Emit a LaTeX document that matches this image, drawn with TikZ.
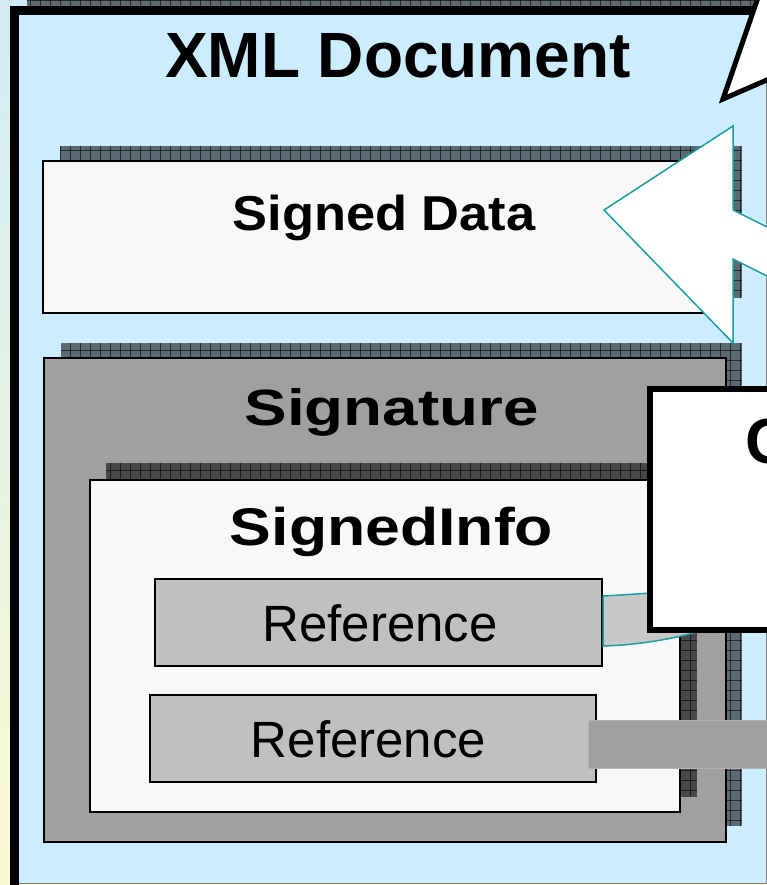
\documentclass[tikz,border=0pt]{standalone}
\usepackage{fontspec}
\setmainfont{Liberation Sans}

\definecolor{docblue}{RGB}{204,236,255}
\definecolor{paper}{RGB}{248,248,248}
\definecolor{siggray}{RGB}{160,160,160}
\definecolor{refgray}{RGB}{192,192,192}
\definecolor{tailgray}{RGB}{200,200,200}
\definecolor{baredge}{RGB}{178,178,178}
\definecolor{arrowteal}{RGB}{26,158,158}
\definecolor{skyleft}{RGB}{210,236,246}
\definecolor{creamleft}{RGB}{250,250,208}

\tikzset{
	shadowline/.style={black,opacity=0.6,line width=0.8pt},
	boxline/.style={draw=black,line width=2pt},
	labeltext/.style={inner sep=0pt,anchor=base},
}

% hatched drop shadow: x1, y1, x2, y2
\newcommand{\hatchshadow}[4]{%
	\begin{scope}
		\clip (#1,#2) rectangle (#3,#4);
		\fill[black,opacity=0.55] (#1,#2) rectangle (#3,#4);
		\foreach \gx in {0,10,...,790} \draw[shadowline] (\gx,#2) -- (\gx,#4);
		\foreach \gy in {-10,0,...,890} \draw[shadowline] (#1,\gy) -- (#3,\gy);
	\end{scope}}

\begin{document}
\begin{tikzpicture}[x=1pt,y=-1pt]
	\useasboundingbox (0,0) rectangle (767,885);
	\clip (0,0) rectangle (767,885);
	\shade[top color=skyleft,bottom color=creamleft] (0,0) rectangle (767,885);

	% xml document
	\hatchshadow{27}{-10}{790}{868}
	\fill[docblue] (10,7) rectangle (766,883);
	\draw[gray,line width=1pt] (766,7) -- (766,883) -- (10,883);
	\draw[line width=9pt] (14.5,890) -- (14.5,11) -- (790,11);
	\node[labeltext,font=\bfseries\fontsize{64}{70}\selectfont] (doc) at (398,78) {XML Document};

	% signed data
	\hatchshadow{60}{146}{742}{298}
	\draw[boxline,fill=paper] (43,161) rectangle (725,313);
	\node[labeltext,font=\bfseries\fontsize{49}{56}\selectfont] (data) at (384,230) {\scalebox{1.07}[1]{Signed Data}};

	% signature
	\hatchshadow{61}{343}{742}{826}
	\draw[boxline,fill=siggray] (44,358) rectangle (726,842);
	\node[labeltext,font=\bfseries\fontsize{51}{58}\selectfont] (sig) at (391.5,425) {\scalebox{1.25}[1]{Signature}};

	% signed info
	\hatchshadow{106}{463}{697}{797}
	\draw[boxline,fill=paper] (90,480) rectangle (680,812);
	\node[labeltext,font=\bfseries\fontsize{53}{60}\selectfont] (info) at (391.5,545) {\scalebox{1.18}[1]{SignedInfo}};

	% references
	\draw[boxline,fill=refgray] (155,579) rectangle (602,666);
	\node[labeltext,font=\fontsize{51}{58}\selectfont] (ref1) at (380,641) {Reference};
	\draw[boxline,fill=refgray] (150,695) rectangle (596,782);
	\node[labeltext,font=\fontsize{51}{58}\selectfont] (ref2) at (368.5,757) {Reference};

	% callout tail from the first reference
	\draw[fill=tailgray,draw=arrowteal,line width=1.5pt] (603,596) .. controls (640,594) and (680,591) .. (710,588) -- (710,628) .. controls (680,638) and (640,645) .. (603,646) -- cycle;

	% note box
	\draw[line width=6pt,fill=white] (650,389) rectangle (800,630);
	\node[labeltext,anchor=base west,font=\bfseries\fontsize{64}{70}\selectfont] (note) at (745,463) {C};

	% link from the second reference
	\draw[draw=baredge,fill=siggray,line width=1pt] (588,720) rectangle (790,768);

	% big arrow
	\draw[arrowteal,fill=white,line width=1.5pt] (604,210) -- (733,126) -- (733,210) -- (790,238.5) -- (790,287.5) -- (733,259) -- (733,343) -- cycle;

	% callout pointer
	\draw[line width=5pt,fill=white] (764,-20) -- (723,99) -- (790,70) -- (790,-20) -- cycle;
\end{tikzpicture}
\end{document}
